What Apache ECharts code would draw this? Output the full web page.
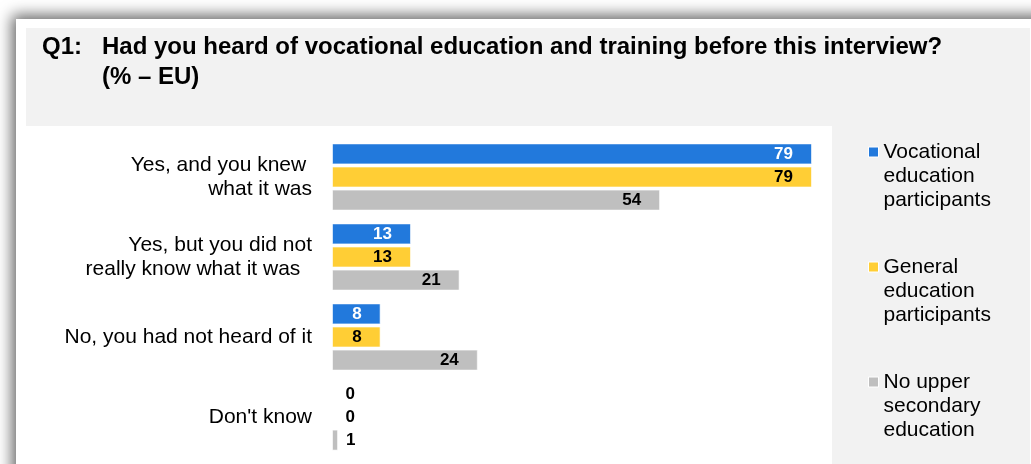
<!DOCTYPE html>
<html>
<head>
<meta charset="utf-8">
<script src="https://cdn.jsdelivr.net/npm/echarts@6/dist/echarts.min.js"></script>
<style>
html,body{margin:0;padding:0;background:#fff;}
#chart{width:1031px;height:464px;}
</style>
</head>
<body>
<div id="chart"></div>
<script>
const categories = [
  'Yes, and you knew \nwhat it was',
  'Yes, but you did not\nreally know what it was  ',
  'No, you had not heard of it',
  "Don't know"
];
const seriesNames = [
  'Vocational\neducation\nparticipants',
  'General\neducation\nparticipants',
  'No upper\nsecondary\neducation'
];
const vocational = [79, 13, 8, 0];
const general = [79, 13, 8, 0];
const noUpper = [54, 21, 24, 1];
const colors = ['#2279DC', '#FFCE35', '#BFBFBF'];
const labelColors = ['#ffffff', '#000000', '#000000'];
const titleQ = 'Q1:';
const titleText = 'Had you heard of vocational education and training before this interview?\n(% \u2013 EU)';

const font = 'Liberation Sans, Arial, sans-serif';

function makeSeries(name, values, idx) {
  return {
    name: name,
    type: 'bar',
    barWidth: 21,
    barGap: '10%',
    itemStyle: { color: colors[idx], borderColor: 'rgba(255,255,255,0.6)', borderWidth: 1 },
    label: {
      show: true,
      position: 'insideRight',
      distance: 19,
      color: labelColors[idx],
      fontFamily: font,
      fontWeight: 'bold',
      fontSize: 17
    },
    data: values.map(v => v < 3 ? {
      value: v,
      label: { position: 'insideLeft', distance: 14, color: '#000000' }
    } : v)
  };
}

const chart = echarts.init(document.getElementById('chart'), null, { renderer: 'canvas' });
chart.setOption({
  animation: false,
  backgroundColor: '#ffffff',
  graphic: [
    { type: 'rect', z: -10, silent: true,
      shape: { x: 16, y: 19, width: 1100, height: 500 },
      style: { fill: '#ffffff', shadowBlur: 14, shadowColor: 'rgba(0,0,0,0.6)', shadowOffsetX: -4, shadowOffsetY: -4 } },
    { type: 'rect', z: -9, silent: true,
      shape: { x: 26, y: 28, width: 1004, height: 98 },
      style: { fill: '#f2f2f2' } },
    { type: 'rect', z: -9, silent: true,
      shape: { x: 832, y: 126, width: 198, height: 338 },
      style: { fill: '#f2f2f2' } }
  ],
  title: [
    { text: titleQ, left: 42, top: 32, padding: 0,
      textStyle: { fontFamily: font, fontSize: 24, fontWeight: 'bold', color: '#000', lineHeight: 30 } },
    { text: titleText, left: 102, top: 32, padding: 0,
      textStyle: { fontFamily: font, fontSize: 24, fontWeight: 'bold', color: '#000', lineHeight: 30 } }
  ],
  legend: {
    orient: 'vertical',
    left: 868,
    top: 92,
    padding: 0,
    itemGap: -5,
    itemWidth: 10,
    itemHeight: 10,
    icon: 'rect',
    itemStyle: { borderColor: '#ffffff', borderWidth: 1 },
    formatter: function (name) { return '\n\n' + name; },
    textStyle: { fontFamily: font, fontSize: 21, color: '#000', lineHeight: 24 },
    data: seriesNames
  },
  grid: { left: 332, right: 219, top: 137, bottom: 7, containLabel: false },
  xAxis: { type: 'value', min: 0, max: 79, show: false },
  yAxis: {
    type: 'category',
    inverse: true,
    data: categories,
    axisLine: { show: false },
    axisTick: { show: false },
    splitLine: { show: false },
    axisLabel: { margin: 20, fontFamily: font, fontSize: 21, color: '#000', lineHeight: 24, align: 'right' }
  },
  series: [
    makeSeries(seriesNames[0], vocational, 0),
    makeSeries(seriesNames[1], general, 1),
    makeSeries(seriesNames[2], noUpper, 2)
  ]
});
</script>
</body>
</html>
